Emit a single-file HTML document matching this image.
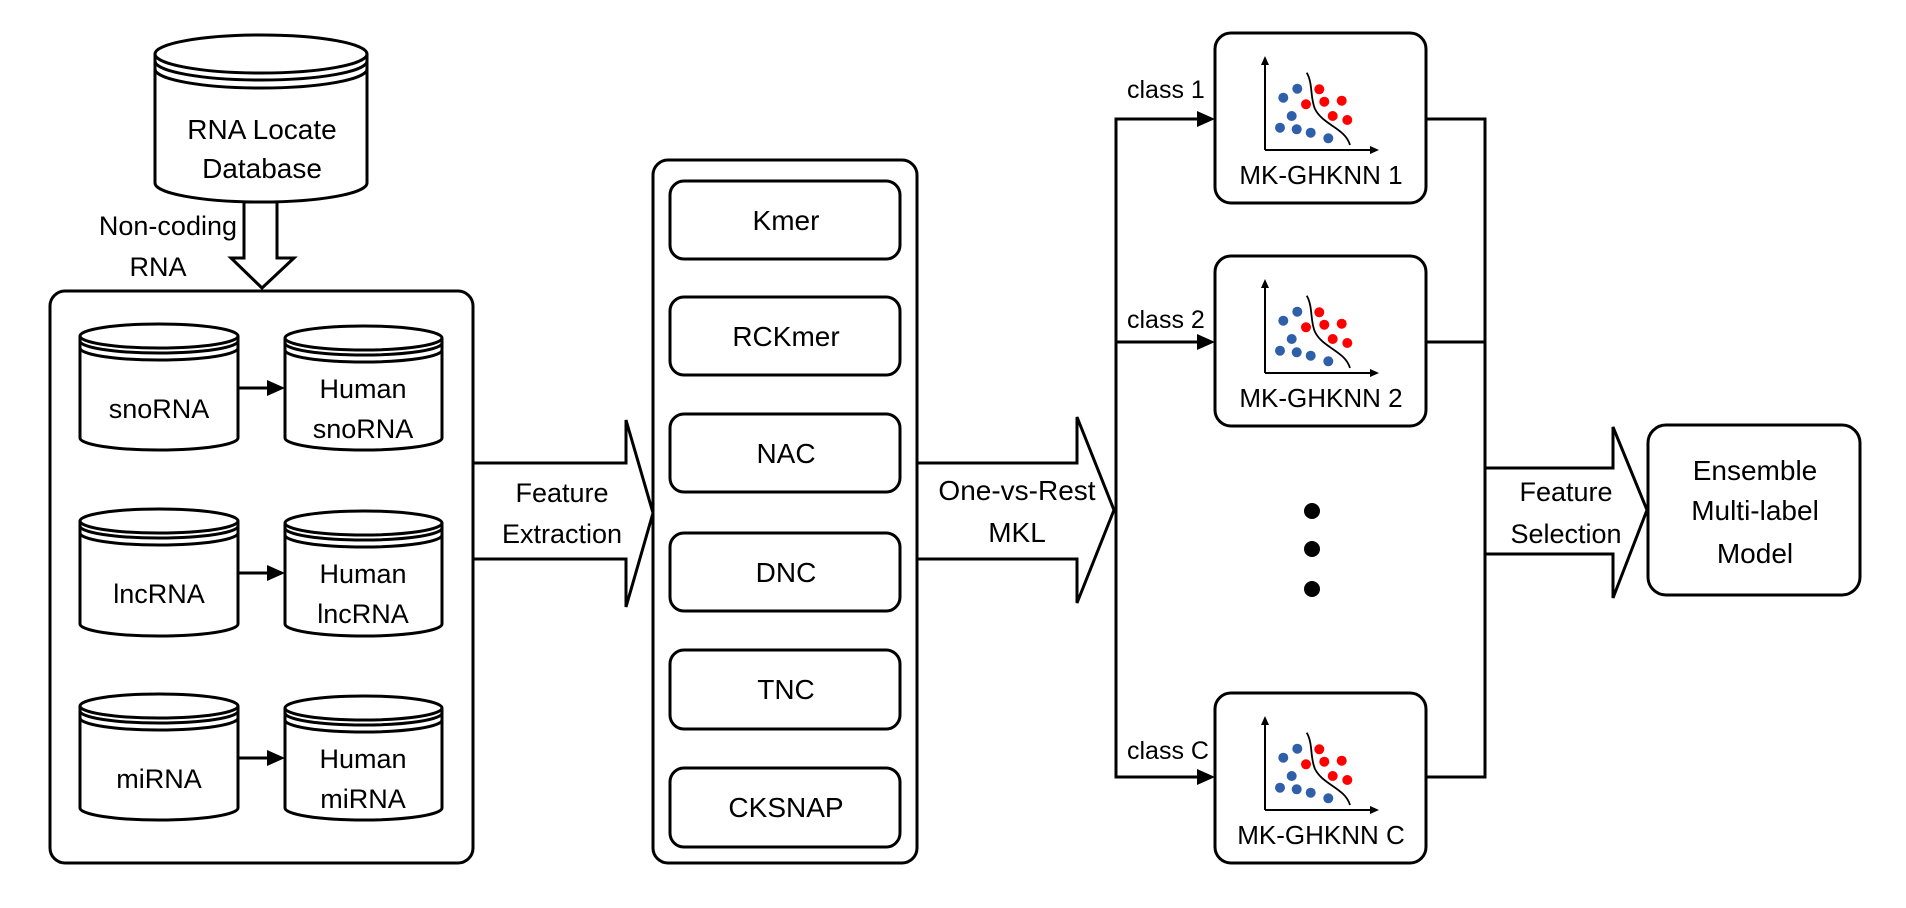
<!DOCTYPE html>
<html><head><meta charset="utf-8"><style>
html,body{margin:0;padding:0;background:#fff;}
svg{display:block;}
text{font-family:"Liberation Sans",sans-serif;fill:#000;}
</style></head><body>
<svg width="1906" height="908" viewBox="0 0 1906 908" xmlns="http://www.w3.org/2000/svg">
<defs>
<g id="plot">
  <line x1="50" y1="117" x2="50" y2="30" stroke="#000" stroke-width="2"/>
  <polygon points="46,32 54,32 50,23" fill="#000"/>
  <line x1="50" y1="117" x2="157" y2="117" stroke="#000" stroke-width="2"/>
  <polygon points="155,113 155,121 164,117" fill="#000"/>
  <path d="M91.7,39.7 C98,50 95,65 100,76 C108,92 130,95 135,112" fill="none" stroke="#000" stroke-width="1.8"/>
  <g fill="#2e5fa8">
    <circle cx="68.3" cy="64.7" r="5"/><circle cx="82.3" cy="55.7" r="5"/><circle cx="76.7" cy="83" r="5"/>
    <circle cx="65" cy="94.7" r="5"/><circle cx="81.7" cy="96.3" r="5"/><circle cx="95.7" cy="99.7" r="5"/>
    <circle cx="113.3" cy="105.3" r="5"/>
  </g>
  <g fill="#f00">
    <circle cx="104.3" cy="56.3" r="5"/><circle cx="91" cy="71.3" r="5"/><circle cx="109.3" cy="68.7" r="5"/>
    <circle cx="126.7" cy="67.7" r="5"/><circle cx="117.7" cy="83" r="5"/><circle cx="132.3" cy="87" r="5"/>
  </g>
</g>
</defs>

<!-- Big DB cylinder -->
<g fill="#fff" stroke="#000" stroke-width="3">
  <path d="M155,54 L155,183 A106,19 0 0 0 367,183 L367,54"/>
  <ellipse cx="261" cy="54" rx="106" ry="19"/>
  <path d="M155,61 A106,19 0 0 0 367,61" fill="none"/>
  <path d="M155,69 A106,19 0 0 0 367,69" fill="none"/>
</g>
<text x="262" y="139" font-size="28" text-anchor="middle">RNA Locate</text>
<text x="262" y="178" font-size="28" text-anchor="middle">Database</text>

<!-- Hollow down arrow -->
<polygon points="244,202 277,202 277,258 294,258 262,288 231,258 244,258" fill="#fff" stroke="#000" stroke-width="3"/>
<text x="237" y="235" font-size="27" text-anchor="end">Non-coding</text>
<text x="158" y="276" font-size="27" text-anchor="middle">RNA</text>

<!-- Left outer box -->
<rect x="50" y="291" width="423" height="572" rx="15" fill="none" stroke="#000" stroke-width="3"/>

<!-- small cylinders -->
<g fill="#fff" stroke="#000" stroke-width="3">
  <!-- row 1 -->
  <path d="M80,336 L80,438 A79,12 0 0 0 238,438 L238,336"/><ellipse cx="159" cy="336" rx="79" ry="12"/>
  <path d="M80,341 A79,12 0 0 0 238,341" fill="none"/><path d="M80,348 A79,12 0 0 0 238,348" fill="none"/>
  <path d="M285,338 L285,438 A78.5,12 0 0 0 442,438 L442,338"/><ellipse cx="363.5" cy="338" rx="78.5" ry="12"/>
  <path d="M285,343 A78.5,12 0 0 0 442,343" fill="none"/><path d="M285,350 A78.5,12 0 0 0 442,350" fill="none"/>
  <!-- row 2 -->
  <path d="M80,521 L80,624 A79,12 0 0 0 238,624 L238,521"/><ellipse cx="159" cy="521" rx="79" ry="12"/>
  <path d="M80,526 A79,12 0 0 0 238,526" fill="none"/><path d="M80,533 A79,12 0 0 0 238,533" fill="none"/>
  <path d="M285,523 L285,624 A78.5,12 0 0 0 442,624 L442,523"/><ellipse cx="363.5" cy="523" rx="78.5" ry="12"/>
  <path d="M285,528 A78.5,12 0 0 0 442,528" fill="none"/><path d="M285,535 A78.5,12 0 0 0 442,535" fill="none"/>
  <!-- row 3 -->
  <path d="M80,706 L80,808 A79,12 0 0 0 238,808 L238,706"/><ellipse cx="159" cy="706" rx="79" ry="12"/>
  <path d="M80,711 A79,12 0 0 0 238,711" fill="none"/><path d="M80,718 A79,12 0 0 0 238,718" fill="none"/>
  <path d="M285,708 L285,808 A78.5,12 0 0 0 442,808 L442,708"/><ellipse cx="363.5" cy="708" rx="78.5" ry="12"/>
  <path d="M285,713 A78.5,12 0 0 0 442,713" fill="none"/><path d="M285,720 A78.5,12 0 0 0 442,720" fill="none"/>
</g>
<g stroke="#000" stroke-width="3">
  <line x1="238" y1="388" x2="270" y2="388"/><line x1="238" y1="573" x2="270" y2="573"/><line x1="238" y1="758" x2="270" y2="758"/>
</g>
<g fill="#000">
  <polygon points="267,380 267,396 285,388"/><polygon points="267,565 267,581 285,573"/><polygon points="267,750 267,766 285,758"/>
</g>
<g font-size="27" text-anchor="middle">
  <text x="159" y="418">snoRNA</text>
  <text x="363" y="398">Human</text><text x="363" y="438">snoRNA</text>
  <text x="159" y="603">lncRNA</text>
  <text x="363" y="583">Human</text><text x="363" y="623">lncRNA</text>
  <text x="159" y="788">miRNA</text>
  <text x="363" y="768">Human</text><text x="363" y="808">miRNA</text>
</g>

<!-- Feature Extraction arrow -->
<polygon points="473,463 626,463 626,420 653,513 626,607 626,559 473,559" fill="#fff" stroke="#000" stroke-width="3"/>
<text x="562" y="502" font-size="27" text-anchor="middle">Feature</text>
<text x="562" y="543" font-size="27" text-anchor="middle">Extraction</text>

<!-- Middle box -->
<rect x="653" y="160" width="264" height="703" rx="15" fill="none" stroke="#000" stroke-width="3"/>
<g fill="none" stroke="#000" stroke-width="3">
  <rect x="670" y="181" width="230" height="78" rx="14"/>
  <rect x="670" y="297" width="230" height="78" rx="14"/>
  <rect x="670" y="414" width="230" height="78" rx="14"/>
  <rect x="670" y="533" width="230" height="78" rx="14"/>
  <rect x="670" y="650" width="230" height="79" rx="14"/>
  <rect x="670" y="768" width="230" height="79" rx="14"/>
</g>
<g font-size="28" text-anchor="middle">
  <text x="786" y="230">Kmer</text>
  <text x="786" y="346">RCKmer</text>
  <text x="786" y="463">NAC</text>
  <text x="786" y="582">DNC</text>
  <text x="786" y="699">TNC</text>
  <text x="786" y="817">CKSNAP</text>
</g>

<!-- One-vs-Rest arrow -->
<polygon points="917,463 1077,463 1077,417 1114,510 1077,603 1077,559 917,559" fill="#fff" stroke="#000" stroke-width="3"/>
<text x="1017" y="500" font-size="28" text-anchor="middle">One-vs-Rest</text>
<text x="1017" y="542" font-size="28" text-anchor="middle">MKL</text>

<!-- distribution lines -->
<g stroke="#000" stroke-width="3" fill="none">
  <polyline points="1199,119 1116,119 1116,777 1199,777"/>
  <line x1="1116" y1="342" x2="1199" y2="342"/>
  <polyline points="1426,119 1485,119 1485,777 1426,777"/>
  <line x1="1426" y1="342" x2="1485" y2="342"/>
</g>
<g fill="#000">
  <polygon points="1197,111 1197,127 1215,119"/>
  <polygon points="1197,334 1197,350 1215,342"/>
  <polygon points="1197,769 1197,785 1215,777"/>
</g>
<g font-size="25">
  <text x="1127" y="98">class 1</text>
  <text x="1127" y="328">class 2</text>
  <text x="1127" y="759">class C</text>
</g>

<!-- MK boxes -->
<g fill="#fff" stroke="#000" stroke-width="3">
  <rect x="1215" y="33" width="211" height="170" rx="16"/>
  <rect x="1215" y="256" width="211" height="170" rx="16"/>
  <rect x="1215" y="693" width="211" height="170" rx="16"/>
</g>
<use href="#plot" transform="translate(1215,33)"/>
<use href="#plot" transform="translate(1215,256)"/>
<use href="#plot" transform="translate(1215,693)"/>
<g font-size="26" text-anchor="middle">
  <text x="1321" y="184">MK-GHKNN 1</text>
  <text x="1321" y="407">MK-GHKNN 2</text>
  <text x="1321" y="844">MK-GHKNN C</text>
</g>

<!-- dots -->
<circle cx="1312" cy="511" r="8" fill="#000"/>
<circle cx="1312" cy="549" r="8" fill="#000"/>
<circle cx="1312" cy="589" r="8" fill="#000"/>

<!-- Feature Selection arrow -->
<polygon points="1485,468 1613,468 1613,427 1647,510 1613,598 1613,554 1485,554" fill="#fff" stroke="#000" stroke-width="3"/>
<text x="1566" y="501" font-size="27" text-anchor="middle">Feature</text>
<text x="1566" y="543" font-size="27" text-anchor="middle">Selection</text>

<!-- Ensemble box -->
<rect x="1648" y="425" width="212" height="170" rx="18" fill="#fff" stroke="#000" stroke-width="3"/>
<g font-size="28" text-anchor="middle">
  <text x="1755" y="480">Ensemble</text>
  <text x="1755" y="520">Multi-label</text>
  <text x="1755" y="563">Model</text>
</g>
</svg>
</body></html>
